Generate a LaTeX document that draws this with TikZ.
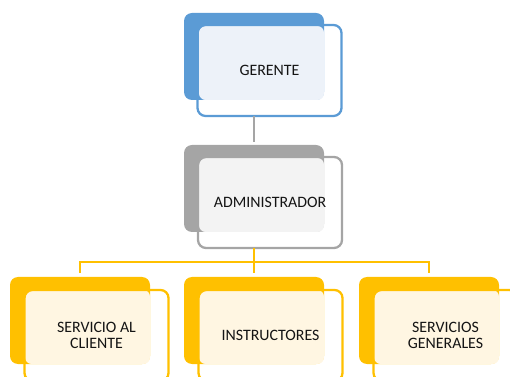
\documentclass[tikz,border=0pt]{standalone}
\usepackage{fontspec}
\setmainfont{Carlito}
\usetikzlibrary{calc}

\definecolor{azul}{HTML}{5B9BD5}
\definecolor{azulclaro}{HTML}{EDF2F9}
\definecolor{gris}{HTML}{A5A5A5}
\definecolor{grisclaro}{HTML}{F3F3F3}
\definecolor{amarillo}{HTML}{FFC000}
\definecolor{amarilloclaro}{HTML}{FFF6E2}

\tikzset{
  fondo/.style={rounded corners=6pt, minimum width=105pt, minimum height=65.25pt, inner sep=0pt, outer sep=0pt},
  relleno/.style={rounded corners=5pt, minimum width=93.75pt, minimum height=55.5pt, inner sep=0pt, outer sep=0pt, anchor=south east},
  marco/.style={rounded corners=6pt, line width=1.7pt, minimum width=108pt, minimum height=68.25pt, inner sep=0pt, outer sep=0pt,
    anchor=north west, align=center, text=black!92, font=\fontsize{11.9}{12.6}\selectfont},
  rama/.style={line width=1.6pt}
}

\begin{document}
\begin{tikzpicture}[x=0.75pt,y=-0.75pt]
  \useasboundingbox (0,0) rectangle (510,377);

  \node[fondo, fill=azul] (ger) at (254,56.5) {};
  \node[relleno, fill=azulclaro] at (ger.south east) {};
  \node[marco, draw=azul] (ger-m) at ($(ger.north west)+(13.5,12)$) {GERENTE};

  \node[fondo, fill=gris] (adm) at (254,188.5) {};
  \node[relleno, fill=grisclaro] at (adm.south east) {};
  \node[marco, draw=gris] (adm-m) at ($(adm.north west)+(14,12)$) {ADMINISTRADOR};

  \foreach \n/\x/\t in {sac/80/{SERVICIO AL\\CLIENTE}, ins/254/{INSTRUCTORES}, sg/429/{SERVICIOS\\GENERALES}} {
    \node[fondo, fill=amarillo] (\n) at (\x,320.5) {};
    \node[relleno, fill=amarilloclaro] at (\n.south east) {};
    \node[marco, draw=amarillo] (\n-m) at ($(\n.north west)+(14.5,13)$) {\t};
  }

  \draw[rama, gris, line width=2pt, shorten >=2pt] (ger.south |- ger-m.south) -- (adm.north);
  \coordinate (bus) at ($(adm.south |- adm-m.south)+(0,14)$);
  \draw[rama, amarillo, shorten >=3pt] (adm.south |- adm-m.south) -- (ins.north);
  \draw[rama, amarillo, shorten <=3pt, shorten >=3pt] (sac.north) |- (bus) -| (sg.north);
\end{tikzpicture}
\end{document}
